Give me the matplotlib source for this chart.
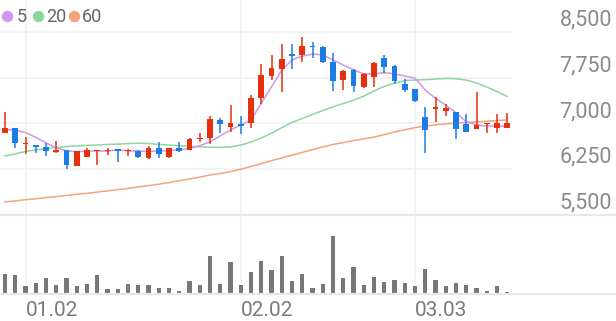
import matplotlib.pyplot as plt
import numpy as np
from matplotlib.lines import Line2D

plt.rcParams['font.family'] = ['Roboto', 'DejaVu Sans']

# daily candles (price in KRW)
opens = [6840, 6930, 6660, 6645, 6610, 6525, 6565, 6300, 6455, 6540,
         6540, 6575, 6540, 6555, 6430, 6590, 6445, 6600, 6565, 6740,
         6755, 7055, 6935, 6985, 7000, 7410, 7775, 7885, 8130, 8120,
         8270, 8255, 8000, 7710, 7875, 7600, 7755, 8065, 7940, 7640,
         7555, 7110, 7240, 7210, 7180, 6990, 6900, 6985, 6930, 6920]
highs = [7190, 6930, 6770, 6645, 6685, 6715, 6565, 6550, 6590, 6570,
         6600, 6575, 6580, 6560, 6630, 6700, 6600, 6690, 6755, 6835,
         7120, 7085, 7300, 7120, 7465, 7970, 8120, 8300, 8300, 8410,
         8335, 8265, 8145, 7870, 7885, 7820, 8000, 8120, 7950, 7720,
         7560, 7260, 7430, 7320, 7180, 7155, 7510, 7000, 7155, 7175]
lows = [6840, 6600, 6500, 6520, 6465, 6510, 6255, 6300, 6455, 6320,
        6480, 6370, 6470, 6430, 6410, 6430, 6440, 6535, 6565, 6690,
        6660, 6835, 6865, 6825, 6920, 7320, 7710, 7520, 7885, 8010,
        8065, 7985, 7535, 7545, 7520, 7580, 7590, 7820, 7645, 7520,
        7350, 6520, 7030, 7120, 6745, 6865, 6900, 6850, 6850, 6920]
closes = [6930, 6685, 6675, 6620, 6550, 6565, 6320, 6545, 6565, 6560,
          6565, 6545, 6555, 6455, 6590, 6495, 6590, 6550, 6745, 6765,
          7065, 6990, 7010, 6960, 7410, 7790, 7900, 8050, 8100, 8265,
          8245, 8000, 7700, 7860, 7610, 7810, 7995, 7925, 7700, 7545,
          7370, 6890, 7255, 7250, 6900, 6865, 6970, 7000, 7000, 7010]

# moving averages as drawn on the chart
ma5 = [6900, 6890, 6850, 6770, 6680, 6600, 6550, 6535, 6545, 6550,
       6545, 6565, 6550, 6545, 6545, 6545, 6555, 6565, 6590, 6635,
       6700, 6795, 6890, 6975, 7055, 7330, 7600, 7870, 8040, 8100,
       8135, 8120, 8040, 7955, 7875, 7810, 7810, 7830, 7810, 7775,
       7740, 7545, 7410, 7300, 7175, 7025, 6975, 6955, 6955, 6955]
ma20 = [6465, 6500, 6540, 6565, 6590, 6605, 6620, 6630, 6640, 6645,
        6655, 6660, 6670, 6675, 6670, 6655, 6645, 6635, 6625, 6615,
        6610, 6605, 6615, 6645, 6695, 6760, 6840, 6930, 7015, 7080,
        7145, 7210, 7270, 7325, 7380, 7445, 7530, 7605, 7660, 7700,
        7710, 7715, 7725, 7735, 7730, 7710, 7660, 7595, 7520, 7440]
ma60 = [5715, 5730, 5750, 5765, 5785, 5800, 5820, 5840, 5855, 5875,
        5895, 5915, 5935, 5960, 5980, 6005, 6030, 6060, 6090, 6120,
        6155, 6180, 6210, 6250, 6295, 6340, 6390, 6435, 6480, 6525,
        6570, 6615, 6655, 6685, 6720, 6745, 6775, 6815, 6860, 6895,
        6930, 6955, 6975, 6990, 7005, 7015, 7025, 7035, 7045, 7055]

# volume (thousand shares)
volumes = [200, 190, 83, 107, 160, 93, 160, 80, 103, 193,
           53, 53, 100, 93, 90, 63, 57, 33, 130, 93,
           377, 103, 323, 90, 217, 333, 240, 383, 127, 197,
           57, 100, 577, 163, 273, 93, 167, 117, 143, 110,
           83, 247, 143, 77, 110, 90, 60, 27, 77, 17]

date_idx = [2, 23, 40]
date_labels = ['01.02', '02.02', '03.03']
price_ticks = [5500, 6250, 7000, 7750, 8500]
ma_names = ['5', '20', '60']
ma_colors = ['#d394ec', '#8cd79f', '#f6a27c']

UP, DOWN = '#e62f0c', '#1c7ce6'
GRID = '#f1f1f1'

W, H = 616, 321
fig = plt.figure(figsize=(W / 100, H / 100), dpi=100)
ax = fig.add_axes([0, 1 - 215 / H, 512 / W, 215 / H])
axv = fig.add_axes([0, 1 - 294 / H, 512 / W, 79 / H])

x = np.arange(len(closes))
o = np.array(opens)
c = np.array(closes)
colors = np.where(c >= o, UP, DOWN)

for a in (ax, axv):
    a.set_xlim(-0.488, 49.46)
    a.axis('off')
    for i in date_idx:
        a.axvline(i, color=GRID, lw=1.2, zorder=0)

ax.set_ylim(5500, 9019)
axv.set_ylim(0, 790)

for v in price_ticks[1:]:
    ax.axhline(v, color=GRID, lw=1.2, zorder=0)

# candles
ax.vlines(x, lows, highs, colors=colors, lw=1.1, zorder=3)
body = np.maximum(np.abs(c - o), 22)
ax.bar(x, body, bottom=np.minimum(o, c), width=0.56, color=colors, zorder=4)

for vals, col in zip([ma60, ma20, ma5], ma_colors[::-1]):
    ax.plot(x, vals, color=col, lw=1.1, zorder=2)

axv.bar(x, volumes, width=0.4, color='#777777', zorder=3)

# separators spanning full width
for yy in (215, 294):
    fig.add_artist(Line2D([0, 1], [1 - yy / H] * 2, transform=fig.transFigure,
                          color='#e8e8e8', lw=1.6))

# price labels on the right, above each gridline
for v in price_ticks:
    ax.annotate(f'{v:,}', xy=(612 / W, v), xycoords=('figure fraction', 'data'),
                xytext=(0, 4.5), textcoords='offset points',
                ha='right', va='baseline', fontsize=15.5, color='#8a8a8a')

# date labels
for i, lab in zip(date_idx, date_labels):
    axv.annotate(lab, xy=(i, 0), xycoords=('data', 'axes fraction'),
                 xytext=(0, -16), textcoords='offset points',
                 ha='left', va='baseline', fontsize=15, color='#7a7a7a')

# legend
lx = [7, 37.5, 74]
tx = [16.5, 46, 82]
for px, tpx, name, col in zip(lx, tx, ma_names, ma_colors):
    fig.add_artist(Line2D([px / W], [1 - 15.5 / H], marker='o', ms=7.2,
                          color=col, transform=fig.transFigure))
    fig.text(tpx / W, 1 - 21.5 / H, name, fontsize=13, color='#666666',
             ha='left', va='baseline')

fig.savefig('out.png', dpi=100)
